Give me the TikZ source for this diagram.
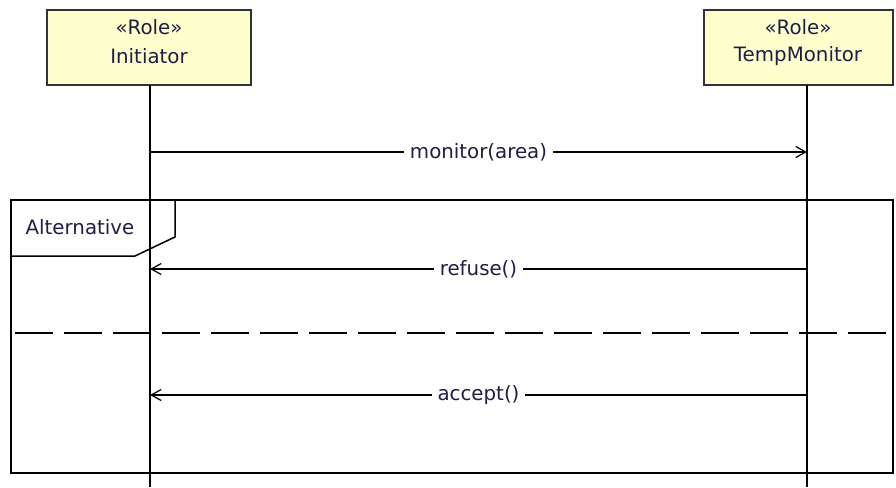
\documentclass[tikz,border=0pt]{standalone}
\usepackage{fontspec}
\setmainfont{DejaVu Sans}
\usetikzlibrary{arrows.meta}
\definecolor{txt}{RGB}{30,30,70}
\definecolor{rolefill}{RGB}{255,255,206}
\begin{document}
\begin{tikzpicture}[x=1pt,y=-1pt,
  rolebox/.style={draw=black!80, line width=1.8pt, fill=rolefill, inner sep=0pt, outer sep=0pt, anchor=north west},
  txtstyle/.style={text=txt, font=\fontsize{19.8}{23}\selectfont, inner sep=0pt},
  life/.style={line width=1.4pt, black},
  msg/.style={line width=1.4pt, black, -{Straight Barb[length=10pt, width=11pt, line width=1.2pt]}},
  lbl/.style={txtstyle, fill=white, inner xsep=6pt, inner ysep=2pt},
  framebox/.style={draw, line width=1.4pt, inner sep=0pt, outer sep=0pt, anchor=north west},
  tabline/.style={line width=1.5pt, line join=miter},
  sep/.style={line width=1.4pt, dash pattern=on 38pt off 11pt, dash phase=45pt}
]
\useasboundingbox (0,0) rectangle (896,487);
% frame
\node[framebox, minimum width=882pt, minimum height=273pt] (alt) at (11,200) {};
\coordinate (tabA) at (175,200);
\coordinate (tabB) at (175,237);
\coordinate (tabC) at (135,256);
\coordinate (tabD) at (11,256);
\draw[tabline] (tabA) -- (tabB) -- (tabC) -- (tabD);
\node[txtstyle] (altlbl) at (80,227) {Alternative};
\coordinate (sepL) at (11,333);
\coordinate (sepR) at (893,333);
\draw[sep] (sepL) -- (sepR);
% role boxes
\node[rolebox, minimum width=204pt, minimum height=75pt] (ini) at (47,10) {};
\node[rolebox, minimum width=189pt, minimum height=75pt] (tm) at (704,10) {};
\node[txtstyle] (iniS) at (149,27) {«Role»};
\node[txtstyle] (iniN) at (149,56) {Initiator};
\node[txtstyle] (tmS) at (798,27) {«Role»};
\node[txtstyle] (tmN) at (798,56) {TempMonitor};
% lifelines
\coordinate (iTop) at (150,85);
\coordinate (iBot) at (150,487);
\coordinate (tTop) at (807,85);
\coordinate (tBot) at (807,487);
\draw[life] (iTop) -- (iBot);
\draw[life] (tTop) -- (tBot);
% messages
\coordinate (i1) at (150,152);
\coordinate (t1) at (807,152);
\coordinate (i2) at (150,269);
\coordinate (t2) at (807,269);
\coordinate (i3) at (150,395);
\coordinate (t3) at (807,395);
\draw[msg] (i1) -- node[lbl] (m1) {monitor(area)} (t1);
\draw[msg] (t2) -- node[lbl] (m2) {refuse()} (i2);
\draw[msg] (t3) -- node[lbl] (m3) {accept()} (i3);
\end{tikzpicture}
\end{document}
